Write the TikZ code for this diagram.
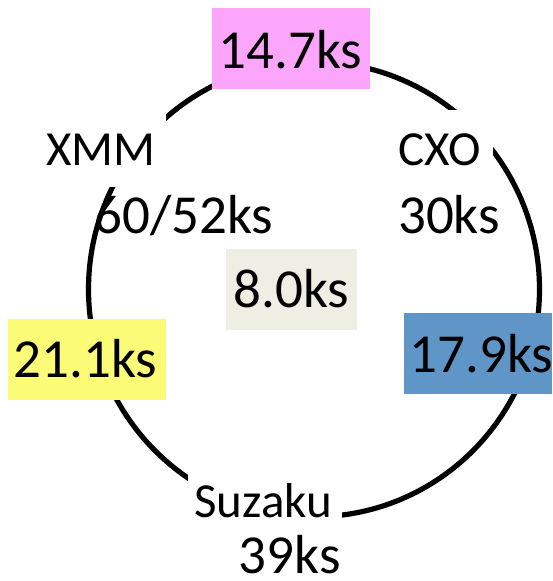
\documentclass[tikz,border=0pt]{standalone}
\usepackage{fontspec}
\setmainfont{Carlito}
\definecolor{pinkbox}{RGB}{251,166,251}
\definecolor{yellowbox}{RGB}{251,251,119}
\definecolor{bluebox}{RGB}{96,149,199}
\definecolor{graybox}{RGB}{238,238,228}
\tikzset{
  ring/.style={line width=5.2pt, draw=black},
  lbl/.style={inner sep=0pt, anchor=base, font=\fontsize{49}{49}\selectfont},
  num/.style={inner sep=0pt, anchor=base, font=\fontsize{55}{55}\selectfont},
  mask/.style={fill=white},
}
\begin{document}
\begin{tikzpicture}[x=1pt,y=-1pt]
\useasboundingbox (0,0) rectangle (552,581);
% ring
\draw[ring] (314,289.3) ellipse [x radius=225.5, y radius=227.5];
% white label backgrounds that break the ring
\fill[mask] (35,110) rectangle (166,187);
\fill[mask] (387,110) rectangle (493,188);
\fill[mask] (188,466) rectangle (341.5,534);
% coloured boxes
\fill[pinkbox] (212,8) rectangle (369.7,89);
\fill[graybox] (226,249) rectangle (357,330);
\fill[yellowbox] (8,319) rectangle (166,400);
\fill[bluebox] (404,313) rectangle (552,394);
% texts
\node[num] (top) at (290.5,68) {14.7ks};
\node[lbl] (xmm) at (100.7,165) {XMM};
\node[num] (xmmt) at (184,233) {60/52ks};
\node[lbl] (cxo) at (440,165) {CXO};
\node[num] (cxot) at (449,233) {30ks};
\node[num] (mid) at (291.5,307) {8.0ks};
\node[num] (left) at (85.4,377) {21.1ks};
\node[num] (right) at (481.5,372) {17.9ks};
\node[lbl] (suz) at (263.2,517) {Suzaku};
\node[num] (suzt) at (289.6,573.5) {39ks};
\end{tikzpicture}
\end{document}
